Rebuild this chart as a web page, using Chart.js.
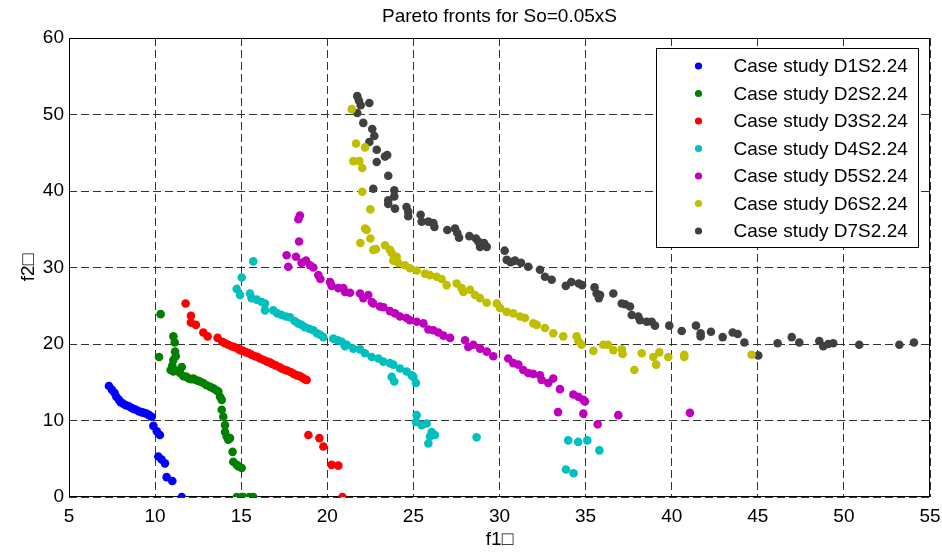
<!DOCTYPE html>
<html>
<head>
<meta charset="utf-8">
<title>Pareto fronts for So=0.05xS</title>
<script src="https://cdn.jsdelivr.net/npm/chart.js@4.4.1/dist/chart.umd.min.js"></script>
<style>
  html, body { margin: 0; padding: 0; background: #ffffff; }
  #wrap { width: 942px; height: 552px; }
</style>
</head>
<body>
<div id="wrap"><canvas id="chart" width="942" height="552"></canvas></div>
<script>
// Axis ticks
const xTicks = [5, 10, 15, 20, 25, 30, 35, 40, 45, 50, 55];
const yTicks = [0, 10, 20, 30, 40, 50, 60];

const chartTitle = 'Pareto fronts for So=0.05xS';

// Series labels and colours
const seriesNames = [
  'Case study D1S2.24', 'Case study D2S2.24', 'Case study D3S2.24', 'Case study D4S2.24',
  'Case study D5S2.24', 'Case study D6S2.24', 'Case study D7S2.24'
];
const seriesColors = ['#0000ff', '#008000', '#ff0000', '#00bfbf', '#bf00bf', '#bfbf00', '#404040'];

// Pareto front points [f1, f2]
const d1 = [[7.32,14.5],[7.5,14.0],[7.65,13.6],[7.75,13.1],[7.9,12.7],[8.0,12.4],[8.15,12.2],[8.3,12.0],
  [8.45,11.9],[8.6,11.7],[8.75,11.5],[8.9,11.4],[9.05,11.2],[9.2,11.1],[9.35,11.0],[9.5,10.9],[9.65,10.7],
  [9.8,10.5],[9.9,9.3],[10.1,8.6],[10.28,8.1],[10.19,5.3],[10.38,4.9],[10.57,4.4],[10.67,2.6],[11.0,2.1],[11.55,0]];

const d2 = [[10.32,23.9],[10.23,18.3],[11.06,21.0],[11.14,20.2],[11.16,19.0],[11.2,18.4],[11.06,17.9],[10.9,16.6],
  [11.0,17.2],[11.06,16.4],[11.25,16.5],[11.45,16.2],[11.55,17.0],[11.64,15.8],[11.83,15.7],[11.95,15.5],[12.1,15.4],
  [12.22,15.5],[12.35,15.3],[12.5,15.2],[12.6,15.1],[12.8,14.9],[12.99,14.6],[13.2,14.4],[13.38,14.2],[13.58,13.9],
  [13.67,13.8],[13.77,13.1],[13.87,12.7],[13.87,11.4],[13.96,10.5],[14.06,9.4],[14.06,8.5],[14.16,7.9],[14.25,7.5],
  [14.35,7.7],[14.5,5.9],[14.54,4.6],[14.74,4.2],[14.85,4.0],[15.03,3.8],[14.74,0],[15.03,0],[15.12,0],[15.47,0],[15.7,0]];

const d3 = [[11.77,25.3],[12.08,23.7],[12.08,22.8],[12.37,22.5],[12.8,21.5],[13.05,21.0],[13.63,20.8],[13.9,20.3],
  [14.06,20.1],[14.25,19.9],[14.45,19.7],[14.6,19.6],[14.8,19.4],[14.95,19.2],[15.1,19.1],[15.3,18.9],[15.45,18.8],
  [15.6,18.6],[15.8,18.4],[15.95,18.3],[16.1,18.1],[16.3,17.9],[16.5,17.7],[16.65,17.6],[16.8,17.4],[17.0,17.2],
  [17.2,17.0],[17.35,16.8],[17.55,16.6],[17.7,16.5],[17.9,16.3],[18.05,16.1],[18.25,15.9],[18.4,15.8],[18.55,15.6],
  [18.7,15.4],[18.8,15.3],[18.9,8.1],[19.54,7.7],[19.77,6.6],[20.25,4.2],[20.64,4.1],[20.88,0]];

const d4 = [[15.7,30.8],[15.03,28.7],[14.74,27.2],[14.93,26.4],[15.51,26.6],[15.6,26.0],[15.9,25.8],[16.19,25.5],
  [16.38,25.3],[16.38,24.4],[16.86,24.4],[17.1,24.0],[17.35,23.8],[17.6,23.6],[17.83,23.5],[18.1,23.0],[18.3,22.7],
  [18.5,22.5],[18.7,22.2],[18.95,22.0],[19.19,21.8],[19.4,21.4],[19.58,21.2],[19.77,20.9],[20.35,20.7],[20.6,20.5],
  [20.84,20.3],[21.03,19.7],[21.13,19.9],[21.51,19.4],[21.9,19.3],[22.19,18.8],[22.58,18.3],[22.96,18.1],[23.25,17.7],
  [23.64,17.5],[23.83,17.3],[24.22,16.8],[24.61,16.4],[24.9,15.9],[25.0,15.7],[23.74,15.7],[23.89,15.1],[25.15,14.9],
  [25.19,10.7],[25.15,9.8],[25.48,9.4],[25.77,9.6],[26.06,8.5],[26.25,8.1],[25.96,7.9],[25.87,7.0],[28.67,7.8],
  [33.86,3.6],[34.3,3.1],[33.99,7.4],[34.57,7.2],[35.1,7.4],[35.8,6.1]];

const d5 = [[18.41,36.8],[18.32,36.3],[18.36,33.4],[17.64,31.6],[18.18,31.4],[17.73,30.1],[18.51,30.6],[18.76,30.9],
  [19.0,30.3],[19.19,30.0],[19.48,29.0],[19.6,28.5],[20.16,28.1],[20.25,27.6],[20.64,27.3],[20.93,27.3],[21.03,26.8],
  [21.32,26.7],[21.9,26.6],[22.09,26.0],[22.38,26.4],[22.58,25.5],[22.67,25.3],[23.06,24.9],[23.26,24.8],[23.64,24.3],
  [23.93,24.0],[24.22,23.6],[24.6,23.4],[24.8,23.1],[25.19,22.9],[25.58,22.7],[25.87,21.9],[26.16,21.8],[26.45,21.5],
  [26.74,21.1],[27.13,20.8],[28.0,20.5],[28.19,19.6],[28.48,19.9],[28.87,19.4],[29.26,19.0],[29.64,18.4],[30.51,18.1],
  [30.8,17.5],[31.09,17.3],[31.38,16.6],[31.67,16.2],[31.96,16.1],[32.35,15.9],[32.45,15.3],[33.12,15.5],[32.83,14.9],
  [33.51,14.1],[34.29,13.4],[34.58,13.1],[34.87,12.7],[34.96,12.5],[33.4,11.1],[34.87,10.9],[35.7,9.5],[36.9,10.7],
  [41.06,11.0]];

const d6 = [[21.42,50.7],[21.67,46.2],[22.19,45.7],[21.51,43.9],[21.86,43.9],[22.03,43.0],[22.03,39.9],[22.5,37.6],
  [22.19,35.1],[22.29,34.9],[22.5,33.8],[21.92,33.2],[22.67,32.3],[22.82,32.4],[23.35,32.9],[23.64,32.3],[23.74,31.9],
  [24.03,31.4],[23.83,30.9],[24.12,30.6],[24.51,30.3],[24.8,29.9],[25.19,29.6],[25.67,29.2],[25.96,29.0],[26.35,28.8],
  [26.64,28.5],[26.93,27.7],[27.51,27.9],[27.8,27.3],[27.9,26.8],[28.29,27.1],[28.58,26.4],[28.87,26.0],[29.26,25.4],
  [29.84,25.3],[30.03,24.7],[30.42,24.2],[30.8,24.0],[31.19,23.6],[31.48,23.4],[31.96,22.7],[32.16,22.5],[32.64,22.1],
  [33.12,21.4],[33.7,21.0],[34.48,21.0],[34.58,20.4],[34.77,19.9],[35.45,19.1],[36.03,19.9],[36.3,19.9],[36.61,19.2],
  [37.1,19.3],[37.15,18.7],[37.83,16.6],[38.26,18.8],[38.93,18.3],[39.1,17.3],[39.28,18.9],[39.8,18.3],[40.73,18.6],
  [40.73,18.3],[44.64,18.6]];

const d7 = [[21.74,52.4],[21.84,51.8],[21.94,51.2],[22.44,51.5],[21.74,50.2],[22.09,48.9],[22.61,48.1],[22.73,47.2],
  [22.44,46.4],[22.87,45.4],[23.35,44.5],[23.48,44.7],[22.87,43.8],[23.54,42.0],[22.67,40.3],[23.89,40.1],[23.89,39.3],
  [23.54,38.8],[23.54,38.3],[23.93,37.7],[24.6,37.9],[24.7,37.3],[24.7,36.7],[25.42,36.9],[25.48,36.0],[25.87,36.0],
  [26.16,35.8],[26.22,35.3],[26.97,34.9],[27.42,35.1],[27.55,34.5],[27.65,33.9],[28.25,34.1],[28.63,33.8],[28.77,33.4],
  [28.87,32.7],[29.1,33.2],[29.26,32.7],[30.3,32.2],[30.42,31.0],[30.65,30.7],[30.9,30.9],[31.25,30.6],[31.67,30.1],
  [32.35,29.7],[32.64,28.8],[33.03,28.4],[33.85,27.6],[34.17,28.1],[34.6,27.9],[34.8,27.7],[35.52,27.4],[35.64,26.6],
  [35.77,26.0],[35.84,26.4],[36.61,26.6],[37.1,25.3],[37.29,25.2],[37.58,24.9],[37.68,23.8],[38.06,23.6],[38.16,23.1],
  [38.55,22.9],[38.84,22.9],[39.03,22.4],[39.86,22.4],[40.58,21.7],[41.41,22.4],[41.68,21.4],[41.68,21.0],[42.28,21.6],
  [42.96,20.9],[43.54,21.5],[43.83,21.3],[44.22,20.2],[45.03,18.5],[46.15,20.1],[46.97,20.9],[47.41,20.2],[48.57,20.4],
  [48.8,19.7],[49.09,20.0],[49.38,20.1],[50.89,19.9],[53.22,19.9],[54.07,20.2]];

const seriesData = [d1, d2, d3, d4, d5, d6, d7];

const FONT = "'Liberation Sans', Arial, Helvetica, sans-serif";

// Title centred over the plotting area
const plotTitle = {
  id: 'plotTitle',
  afterDraw(chart) {
    const { ctx, chartArea: a } = chart;
    ctx.save();
    ctx.font = '19px ' + FONT;
    ctx.fillStyle = '#000000';
    ctx.textAlign = 'center';
    ctx.textBaseline = 'middle';
    ctx.fillText(chartTitle, (a.left + a.right) / 2, a.top - 21);
    ctx.restore();
  }
};

// Solid frame around the plotting area (drawn over the dashed grid)
const frameBox = {
  id: 'frameBox',
  beforeDatasetsDraw(chart) {
    const { ctx, chartArea: a } = chart;
    ctx.save();
    ctx.strokeStyle = '#000000';
    ctx.lineWidth = 1;
    ctx.setLineDash([]);
    ctx.strokeRect(Math.round(a.left) + 0.5, Math.round(a.top) + 0.5,
      Math.round(a.right - a.left) - 1, Math.round(a.bottom - a.top) - 1);
    ctx.restore();
  }
};

// Boxed legend in the upper-right corner of the plotting area
const boxLegend = {
  id: 'boxLegend',
  afterDatasetsDraw(chart) {
    const { ctx, chartArea: a } = chart;
    const w = 262, h = 199, rowH = 27.5;
    const x0 = Math.round(a.right - 12 - w) + 0.5;
    const y0 = Math.round(a.top + 10) + 0.5;
    ctx.save();
    ctx.fillStyle = '#ffffff';
    ctx.fillRect(x0, y0, w, h);
    ctx.strokeStyle = '#000000';
    ctx.lineWidth = 1;
    ctx.setLineDash([]);
    ctx.strokeRect(x0, y0, w, h);
    ctx.font = '19px ' + FONT;
    ctx.textBaseline = 'middle';
    ctx.textAlign = 'left';
    chart.data.datasets.forEach((ds, i) => {
      const cy = y0 + 17.5 + i * rowH;
      ctx.fillStyle = ds.backgroundColor;
      ctx.beginPath();
      ctx.arc(x0 + 42, cy, 3.6, 0, Math.PI * 2);
      ctx.fill();
      ctx.fillStyle = '#000000';
      ctx.fillText(ds.label, x0 + 77, cy + 1);
    });
    ctx.restore();
  }
};

const datasets = seriesData.map((pts, i) => ({
  label: seriesNames[i],
  data: pts.map(p => ({ x: p[0], y: p[1] })),
  backgroundColor: seriesColors[i],
  borderColor: seriesColors[i],
  pointRadius: 4.3,
  pointBorderWidth: 0,
  pointHoverRadius: 4.3,
  showLine: false
}));

new Chart(document.getElementById('chart'), {
  type: 'scatter',
  data: { datasets },
  options: {
    responsive: false,
    animation: false,
    events: [],
    devicePixelRatio: 1,
    layout: { padding: { left: 0, right: 0, top: 38, bottom: 0 } },
    plugins: {
      legend: { display: false },
      tooltip: { enabled: false },
      title: { display: false }
    },
    scales: {
      x: {
        type: 'linear',
        min: xTicks[0],
        max: xTicks[xTicks.length - 1],
        afterBuildTicks(scale) { scale.ticks = xTicks.map(v => ({ value: v })); },
        afterFit(scale) { scale.height = 55; scale.paddingRight = 12; },
        ticks: { color: '#000000', font: { family: FONT, size: 19 }, padding: 8, maxRotation: 0, autoSkip: false },
        grid: { color: '#333333', lineWidth: 1, drawTicks: false },
        border: { display: false, dash: [8, 4] },
        title: { display: true, text: 'f1□', color: '#000000', font: { family: FONT, size: 19 }, padding: { top: 0, bottom: 1 } }
      },
      y: {
        type: 'linear',
        min: yTicks[0],
        max: yTicks[yTicks.length - 1],
        afterBuildTicks(scale) { scale.ticks = yTicks.map(v => ({ value: v })); },
        afterFit(scale) { scale.width = 69; },
        ticks: { color: '#000000', font: { family: FONT, size: 19 }, padding: 5, autoSkip: false },
        grid: { color: '#333333', lineWidth: 1, drawTicks: false },
        border: { display: false, dash: [8, 4] },
        title: { display: true, text: 'f2□', color: '#000000', font: { family: FONT, size: 19 }, padding: { top: 17, bottom: 0 } }
      }
    }
  },
  plugins: [plotTitle, frameBox, boxLegend]
});
</script>
</body>
</html>
